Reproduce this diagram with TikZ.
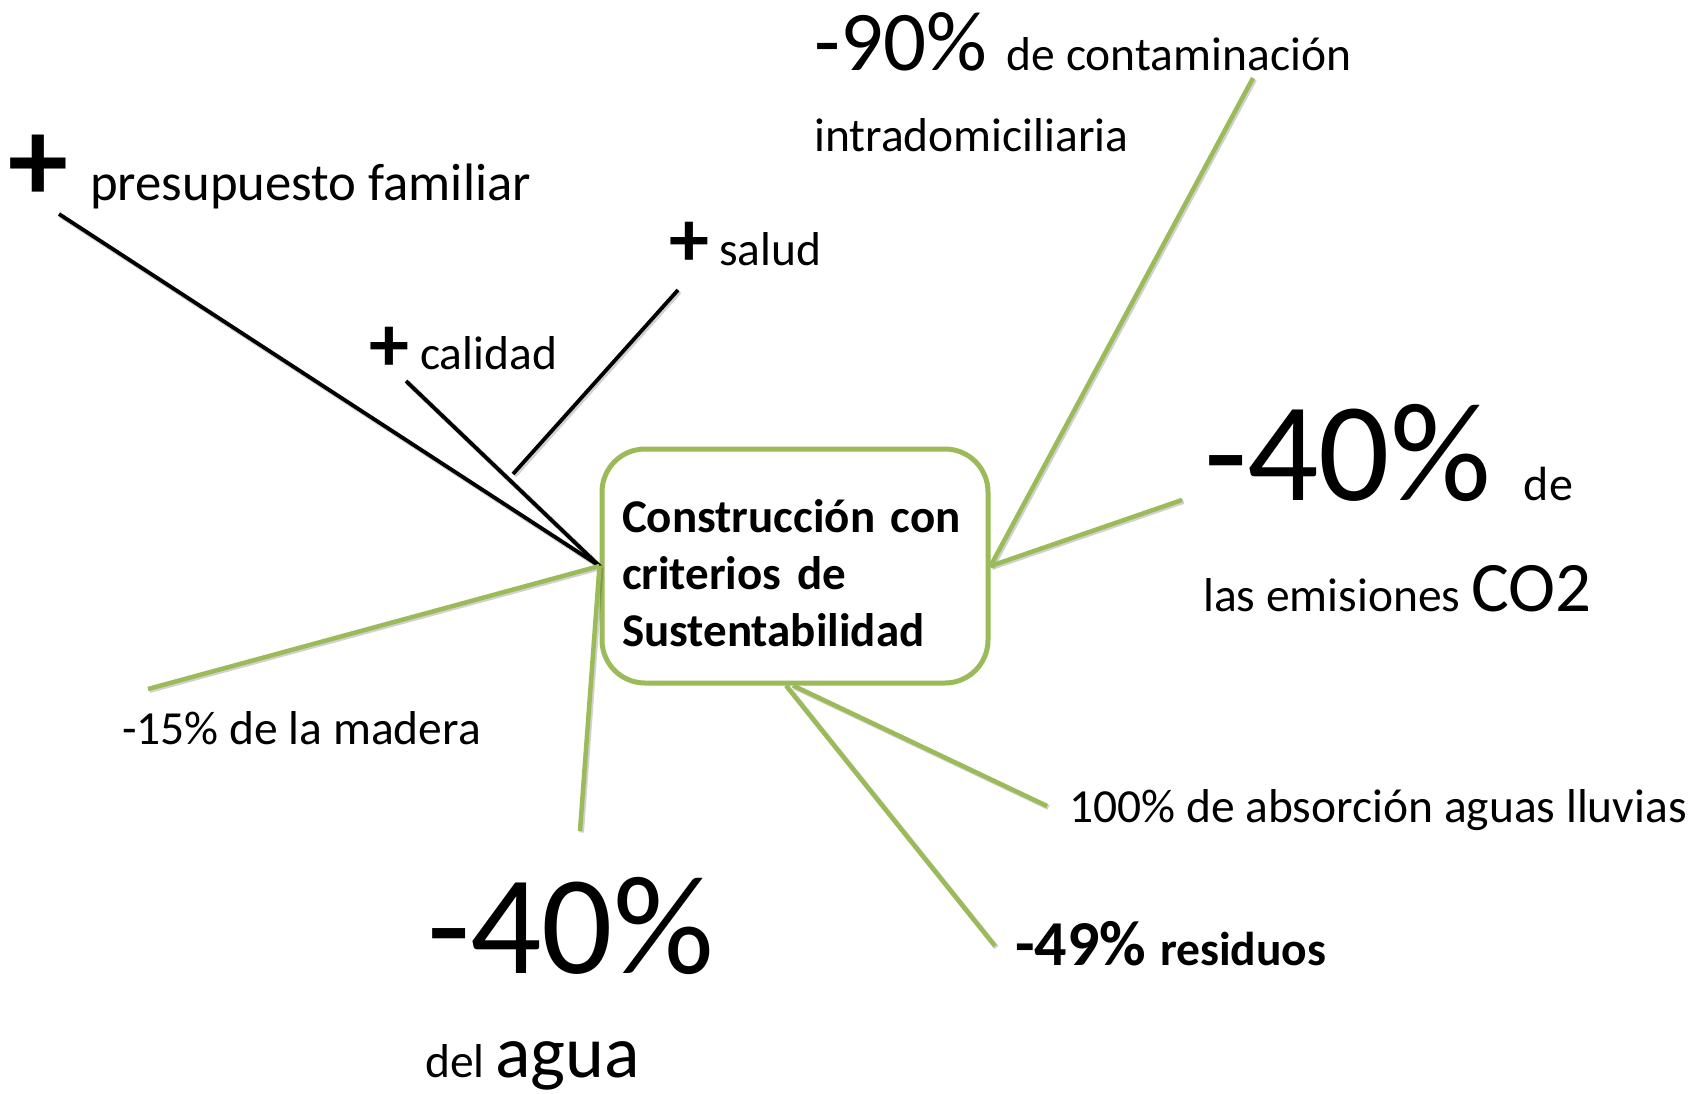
\documentclass[tikz,border=0pt]{standalone}
\usepackage{fontspec}
\setmainfont{Carlito}
\newcommand{\tam}[1]{\fontsize{#1}{#1}\selectfont}
\definecolor{verde}{HTML}{9BBB59}

\begin{document}
\begin{tikzpicture}[x=1pt,y=-1pt,
  tema/.style={draw=verde,line width=5pt,rounded corners=43pt,fill=white,
    minimum width=386pt,minimum height=234pt,text width=346pt,align=left,
    inner sep=0pt,font=\bfseries\fontsize{47}{56.7}\selectfont},
  txt/.style={anchor=base west,inner sep=0pt,font=\tam{47.5}},
  mas/.style={inner sep=0pt,font=\bfseries\tam{#1}},
  sombra/.style={preaction={draw=black,opacity=0.18,line width=5pt,
    transform canvas={shift={(1.5,1.5)}}}},
  negra/.style={sombra,line width=3.8pt,black},
  rama/.style={sombra,line width=4.5pt,verde}]
\useasboundingbox (0,0) rectangle (1696,1093);

\node[tema] (cen) at (795,566) {\rule{0pt}{47pt}Construcción con\\criterios de\\Sustentabilidad};

% lado izquierdo
\node[mas=120] (mas1) at (38,168) {+};
\node[txt,font=\tam{52.7}] (presu) at (90,200) {presupuesto familiar};
\node[mas=80] (mas2) at (389,349) {+};
\node[txt] (cali) at (420,369) {calidad};
\node[mas=80] (mas3) at (689,244) {+};
\node[txt] (salud) at (719,265) {salud};
\node[txt] (madera) at (122,744) {-15\% de la madera};
\coordinate (c1) at (59,214);
\coordinate (c2) at (406,381);
\coordinate (c3) at (678,290);
\coordinate (c4) at (513,474);
\coordinate (c5) at (148,689);
\coordinate (c6) at (580,831);
\draw[negra] (c1) -- (cen.west);
\draw[negra] (c2) -- (cen.west);
\draw[negra] (c3) -- (c4);
\draw[rama] (c5) -- (cen.west);
\draw[rama] (c6) -- (cen.west);

% lado derecho
\node[txt] (cont) at (814,70) {{\tam{85}-90\%}\hspace{9pt} {\tam{47.5}de contaminación}};
\node[txt] (intra) at (814,151) {intradomiciliaria};
\node[txt] (co) at (1204,500) {{\tam{141}-40\%}\hspace{22pt} {\tam{48}de}};
\node[txt] (emis) at (1203,611) {las emisiones {\tam{71}CO2}};
\node[txt] (lluv) at (1069,822) {100\% de absorción aguas lluvias};
\node[txt,font=\bfseries\tam{47.5}] (resid) at (1015,965) {{\tam{64}-49\%}\hspace{3pt} residuos};
\node[txt,font=\tam{141}] (agua40) at (427,973) {-40\%};
\node[txt] (agua) at (425,1077) {del {\tam{74}agua}};
\coordinate (d1) at (1253,78);
\coordinate (d2) at (1182,500);
\coordinate (d3) at (1047,806);
\coordinate (d4) at (995,946);
\draw[rama] (d1) -- (cen.east);
\draw[rama] (d2) -- (cen.east);
\draw[rama] (d3) -- ([xshift=-2pt]cen.south);
\draw[rama] (d4) -- ([xshift=-9pt]cen.south);
\end{tikzpicture}
\end{document}
